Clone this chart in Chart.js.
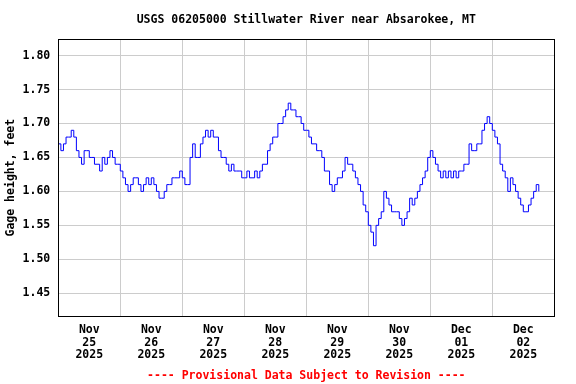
<!DOCTYPE html>
<html>
<head>
<meta charset="utf-8">
<script src="https://cdn.jsdelivr.net/npm/chart.js@4.4.1/dist/chart.umd.min.js"></script>
<style>
html,body{margin:0;padding:0;background:#fff;}
</style>
</head>
<body>
<canvas id="grafico" width="576" height="384"></canvas>
<script>
const chartTitle="USGS 06205000 Stillwater River near Absarokee, MT";
const yTitle="Gage height, feet";
const footNote="---- Provisional Data Subject to Revision ----";

// one label per day, placed at noon
const months=["Nov","Nov","Nov","Nov","Nov","Nov","Dec","Dec"];
const days=["25","26","27","28","29","30","01","02"];
const year="2025";

const yTicks=[1.45,1.50,1.55,1.60,1.65,1.70,1.75,1.80];

// gage height, feet, hourly from Nov 25 00:00 (index = hour)
const gageHeight=[
1.67,1.66,1.67,1.68,1.68,1.69,1.68,1.66,1.65,1.64,
1.66,1.66,1.65,1.65,1.64,1.64,1.63,1.65,1.64,1.65,
1.66,1.65,1.64,1.64,1.63,1.62,1.61,1.60,1.61,1.62,
1.62,1.61,1.60,1.61,1.62,1.61,1.62,1.61,1.60,1.59,
1.59,1.60,1.61,1.61,1.62,1.62,1.62,1.63,1.62,1.61,
1.61,1.65,1.67,1.65,1.65,1.67,1.68,1.69,1.68,1.69,
1.68,1.68,1.66,1.65,1.65,1.64,1.63,1.64,1.63,1.63,
1.63,1.62,1.62,1.63,1.62,1.62,1.63,1.62,1.63,1.64,
1.64,1.66,1.67,1.68,1.68,1.70,1.70,1.71,1.72,1.73,
1.72,1.72,1.71,1.71,1.70,1.69,1.69,1.68,1.67,1.67,
1.66,1.66,1.65,1.63,1.63,1.61,1.60,1.61,1.62,1.62,
1.63,1.65,1.64,1.64,1.63,1.62,1.61,1.60,1.58,1.57,
1.55,1.54,1.52,1.55,1.56,1.57,1.60,1.59,1.58,1.57,
1.57,1.57,1.56,1.55,1.56,1.57,1.59,1.58,1.59,1.60,
1.61,1.62,1.63,1.65,1.66,1.65,1.64,1.63,1.62,1.63,
1.62,1.63,1.62,1.63,1.62,1.63,1.63,1.64,1.64,1.67,
1.66,1.66,1.67,1.67,1.69,1.70,1.71,1.70,1.69,1.68,
1.67,1.64,1.63,1.62,1.60,1.62,1.61,1.60,1.59,1.58,
1.57,1.57,1.58,1.59,1.60,1.61,1.60
];

const fuente={family:"'DejaVu Sans Mono', monospace",size:11.5,weight:"bold"};

// black frame around the plot area
const marco={
id:"marco",
afterDatasetsDraw(chart){
const {ctx,chartArea:a}=chart;
ctx.save();
ctx.strokeStyle="#000";
ctx.lineWidth=1;
ctx.strokeRect(Math.floor(a.left)+0.5,Math.floor(a.top)+0.5,Math.round(a.right-a.left),Math.round(a.bottom-a.top));
ctx.restore();
}
};

new Chart(document.getElementById("grafico"),{

type:"line",

data:{
datasets:[{
data:gageHeight.map((v,i)=>({x:i,y:v})),
borderColor:"#0000ff",
borderWidth:1,
pointRadius:0,
stepped:true,
fill:false
}]
},

options:{
responsive:false,
animation:false,
devicePixelRatio:1,
layout:{padding:{left:0,right:21.7,top:0,bottom:0}},
plugins:{
legend:{display:false},
tooltip:{enabled:false},
title:{
display:true,
text:chartTitle,
color:"#000",
font:fuente,
fullSize:false,
padding:{top:13.4,bottom:12.1}
},
subtitle:{
display:true,
position:"bottom",
text:footNote,
color:"#ff0000",
font:{...fuente,lineHeight:1},
fullSize:false,
padding:{top:0,bottom:2.5}
}
},
scales:{
x:{
type:"linear",
min:0,
max:days.length*24,
afterBuildTicks:s=>{
let t=[];
for(let d=0;d<=days.length;d++){
t.push({value:d*24});
if(d<days.length)t.push({value:d*24+12});
}
s.ticks=t;
},
ticks:{
autoSkip:false,
maxRotation:0,
padding:8.25,
color:"#000",
font:{...fuente,lineHeight:1.087},
callback:v=>{
if(v%24!==12)return "";
let d=(v-12)/24;
return [months[d],days[d],year];
}
},
grid:{
drawTicks:false,
lineWidth:1,
color:c=>(c.tick&&c.tick.value%24===0)?"#cccccc":"rgba(0,0,0,0)"
},
border:{display:false}
},
y:{
min:1.4165,
max:1.824,
afterBuildTicks:s=>{
s.ticks=yTicks.map(v=>({value:v}));
},
ticks:{
padding:8,
color:"#000",
font:fuente,
callback:v=>v.toFixed(2)
},
grid:{
drawTicks:false,
lineWidth:1,
color:"#cccccc"
},
border:{display:false},
title:{
display:true,
text:yTitle,
color:"#000",
font:{...fuente,lineHeight:1},
padding:{top:5,bottom:-1.9}
}
}
}
},

plugins:[marco]

});
</script>
</body>
</html>
